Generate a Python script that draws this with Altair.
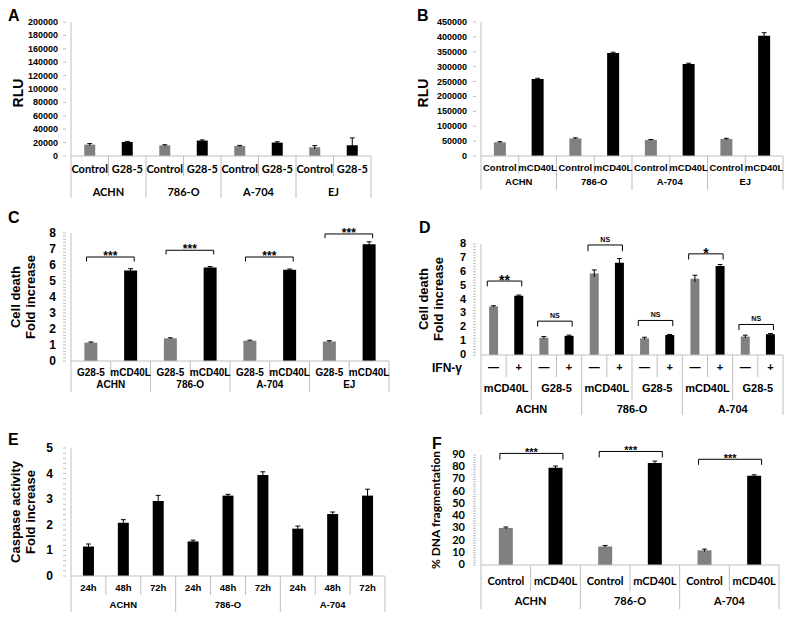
import altair as alt
import pandas as pd

GRAY = "#808080"
BLACK = "#000000"
AXIS = "#bfbfbf"
ARIAL = "Liberation Sans"
CALIBRI = "Lato"

# ---------------- data ----------------
# Panel A
a_cells = ["ACHN", "786-O", "A-704", "EJ"]
a_groups = ["Control", "G28-5"]
a_values = [17000, 21000, 16000, 23000, 15000, 20000, 13000, 16000]
a_errors = [1500, 800, 800, 1000, 800, 1200, 2500, 11000]
a_ticks = [0, 20000, 40000, 60000, 80000, 100000, 120000, 140000, 160000, 180000, 200000]

# Panel B
b_cells = ["ACHN", "786-O", "A-704", "EJ"]
b_groups = ["Control", "mCD40L"]
b_values = [46000, 259000, 59000, 346000, 54000, 309000, 57000, 404000]
b_errors = [2000, 2000, 2000, 2500, 1500, 2500, 2500, 10000]
b_ticks = [0, 50000, 100000, 150000, 200000, 250000, 300000, 350000, 400000, 450000]

# Panel C
c_cells = ["ACHN", "786-O", "A-704", "EJ"]
c_groups = ["G28-5", "mCD40L"]
c_values = [1.15, 5.65, 1.42, 5.85, 1.27, 5.7, 1.22, 7.3]
c_errors = [0.04, 0.12, 0.03, 0.05, 0.03, 0.05, 0.05, 0.15]
c_ticks = [0, 1, 2, 3, 4, 5, 6, 7, 8]
c_sig_text = ["***", "***", "***", "***"]
c_sig_top = [6.5, 6.92, 6.5, 7.94]
c_sig_tip = [6.22, 6.66, 6.22, 7.68]

# Panel D
d_cells = ["ACHN", "786-O", "A-704"]
d_groups = ["mCD40L", "G28-5"]
d_ifn = ["\u2014", "+"]
d_values = [3.5, 4.27, 1.25, 1.38, 5.88, 6.65, 1.2, 1.44, 5.5, 6.42, 1.33, 1.5]
d_errors = [0.05, 0.05, 0.08, 0.05, 0.25, 0.3, 0.08, 0.04, 0.25, 0.1, 0.1, 0.04]
d_ticks = [0, 1, 2, 3, 4, 5, 6, 7, 8]
d_sig_text = ["**", "NS", "NS", "NS", "*", "NS"]
d_sig_top = [5.33, 2.44, 7.93, 2.49, 7.29, 2.2]
d_sig_tip = [4.95, 2.05, 7.48, 2.08, 6.88, 1.8]

# Panel E
e_cells = ["ACHN", "786-O", "A-704"]
e_times = ["24h", "48h", "72h"]
e_values = [1.15, 2.08, 2.93, 1.35, 3.14, 3.95, 1.85, 2.42, 3.14]
e_errors = [0.1, 0.12, 0.22, 0.05, 0.05, 0.12, 0.1, 0.08, 0.25]
e_ticks = [0, 1, 2, 3, 4, 5]

# Panel F
f_cells = ["ACHN", "786-O", "A-704"]
f_groups = ["Control", "mCD40L"]
f_values = [30.3, 79.5, 15.2, 83.5, 12.0, 73.0]
f_errors = [0.8, 1.5, 0.8, 1.5, 1.0, 0.8]
f_ticks = [0, 10, 20, 30, 40, 50, 60, 70, 80, 90]
f_sig_text = ["***", "***", "***"]
f_sig_top = [91.3, 92.9, 86.5]
f_sig_tip = [86.3, 88.0, 82.0]


def build(p):
    n = len(p["values"])
    W, H = p["W"], p["H"]
    xs = alt.Scale(domain=[-0.5, n - 0.5], nice=False, zero=False)
    ys = alt.Scale(domain=[0, p["ydom"]], nice=False)
    X = lambda f: alt.X(f, scale=xs, axis=None)
    Y = lambda f: alt.Y(f, scale=ys, axis=None)
    cap = 2.5 / (W / n)

    df = pd.DataFrame({"i": list(range(n)), "v": p["values"], "e": p["errors"], "c": p["colors"]})
    df["top"] = df["v"] + df["e"]
    df["lo"] = df["v"] - df["e"]
    df["cl"] = df["i"] - cap
    df["cr"] = df["i"] + cap

    layers = [
        alt.Chart(df).mark_bar(size=p["bw"]).encode(
            x=X("i:Q"), y=Y("v:Q"), color=alt.Color("c:N", scale=None)),
        alt.Chart(df).mark_rule(color="black", strokeWidth=1).encode(
            x=X("i:Q"), y=Y("lo:Q"), y2="top:Q"),
        alt.Chart(df).mark_rule(color="black", strokeWidth=1).encode(
            x=X("cl:Q"), x2="cr:Q", y=Y("top:Q")),
    ]
    # axis lines
    ax = pd.DataFrame({"x0": [-0.5], "x1": [n - 0.5], "y0": [0], "y1": [max(p["ticks"])]})
    layers.append(alt.Chart(ax).mark_rule(color=AXIS, strokeWidth=1).encode(
        x=X("x0:Q"), y=Y("y0:Q"), y2="y1:Q"))
    layers.append(alt.Chart(ax).mark_rule(color=AXIS, strokeWidth=1).encode(
        x=X("x0:Q"), x2="x1:Q", y=Y("y0:Q")))
    # y ticks and labels
    mt = pd.DataFrame({"v": p["tickvals"]})
    layers.append(alt.Chart(mt).mark_rule(color=AXIS, strokeWidth=1).encode(
        x=alt.value(-3), x2=alt.value(0), y=Y("v:Q")))
    tk = pd.DataFrame({"v": p["ticks"], "t": [str(t) for t in p["ticks"]]})
    layers.append(alt.Chart(tk).mark_text(
        font=p["lfont"], fontSize=p["lsize"], fontWeight="bold", color="black",
        align="right", baseline="middle").encode(
        x=alt.value(-3 - p["lpad"]), y=Y("v:Q"), text="t:N"))
    # y title lines (rotated)
    for txt, tx in p["title"]:
        td = pd.DataFrame({"t": [txt]})
        layers.append(alt.Chart(td).mark_text(
            font=p["tfont"], fontSize=p["tsize"], fontWeight="bold", color="black",
            angle=270, align="center", baseline="middle").encode(
            x=alt.value(tx), y=alt.value(p["titleY"]), text="t:N"))
    # separators under the category axis
    for pos, L in p["seps"]:
        sd = pd.DataFrame({"x": pos})
        layers.append(alt.Chart(sd).mark_rule(color=AXIS, strokeWidth=1).encode(
            x=X("x:Q"), y=alt.value(H), y2=alt.value(H + L)))
    # category label rows
    for pos, txt, off, font, size in p["rows"]:
        ld = pd.DataFrame({"x": pos, "t": txt})
        layers.append(alt.Chart(ld).mark_text(
            font=font, fontSize=size, fontWeight="bold", color="black", baseline="middle").encode(
            x=X("x:Q"), y=alt.value(H + off), text="t:N"))
    # significance brackets
    if p.get("sig"):
        s = p["sig"]
        bd = pd.DataFrame({
            "x1": [a + s["l"] for a in s["a"]],
            "x2": [a + 1 + s["r"] for a in s["a"]],
            "xm": [a + 0.5 + (s["l"] + s["r"]) / 2 for a in s["a"]],
            "top": s["top"], "tip": s["tip"], "t": s["text"]})
        bd["ns"] = bd["t"] == "NS"
        layers += [
            alt.Chart(bd).mark_rule(color="black", strokeWidth=1).encode(
                x=X("x1:Q"), x2="x2:Q", y=Y("top:Q")),
            alt.Chart(bd).mark_rule(color="black", strokeWidth=1).encode(
                x=X("x1:Q"), y=Y("tip:Q"), y2="top:Q"),
            alt.Chart(bd).mark_rule(color="black", strokeWidth=1).encode(
                x=X("x2:Q"), y=Y("tip:Q"), y2="top:Q"),
        ]
        stars = bd[~bd["ns"]]
        nss = bd[bd["ns"]]
        if len(stars):
            layers.append(alt.Chart(stars).mark_text(
                font=ARIAL, fontSize=s["ssize"], fontWeight="bold", color="black",
                baseline="alphabetic", dy=s["sdy"]).encode(
                x=X("xm:Q"), y=Y("top:Q"), text="t:N"))
        if len(nss):
            layers.append(alt.Chart(nss).mark_text(
                font=ARIAL, fontSize=7, fontWeight="bold", color="black",
                baseline="bottom", dy=-2).encode(
                x=X("xm:Q"), y=Y("top:Q"), text="t:N"))
    # free texts (panel letter, row title)
    for txt, dx, dy, size, align, base in p["texts"]:
        td = pd.DataFrame({"t": [txt]})
        layers.append(alt.Chart(td).mark_text(
            font=ARIAL, fontSize=size, fontWeight="bold", color="black",
            align=align, baseline=base).encode(
            x=alt.value(dx), y=alt.value(dy), text="t:N"))
    return alt.layer(*layers).properties(width=W, height=H)


def alt_colors(n):
    return [GRAY if k % 2 == 0 else BLACK for k in range(n)]


def pair_centers(m):
    return [2 * k + 0.5 for k in range(m)]


def minor(top, step):
    return [round(k * step, 1) for k in range(int(round(top / step)) + 1)]


# ---------- A ----------
A = build(dict(
    values=a_values, errors=a_errors, colors=alt_colors(8), W=310, H=134, ydom=200000,
    ticks=a_ticks, tickvals=a_ticks, title=[("RLU", -47)], titleY=71,
    tfont=ARIAL, tsize=14, lfont=ARIAL, lsize=9, lpad=5, bw=11,
    seps=[([0.5, 2.5, 4.5, 6.5], 20), ([-0.5, 1.5, 3.5, 5.5, 7.5], 42)],
    rows=[(list(range(8)), a_groups * 4, 14, CALIBRI, 11),
          (pair_centers(4), a_cells, 37, CALIBRI, 11)],
    texts=[("A", -58, -14, 16, "left", "top")]))

# ---------- B ----------
B = build(dict(
    values=b_values, errors=b_errors, colors=alt_colors(8), W=312, H=134, ydom=450000,
    ticks=b_ticks, tickvals=b_ticks, title=[("RLU", -52)], titleY=71,
    tfont=ARIAL, tsize=14, lfont=ARIAL, lsize=9, lpad=6, bw=12,
    seps=[([0.5, 2.5, 4.5, 6.5], 18), ([-0.5, 1.5, 3.5, 5.5, 7.5], 34)],
    rows=[(list(range(8)), b_groups * 4, 12, ARIAL, 9.5),
          (pair_centers(4), b_cells, 26, ARIAL, 9.5)],
    texts=[("B", -59, -14, 16, "left", "top")]))

# ---------- C ----------
C = build(dict(
    values=c_values, errors=c_errors, colors=alt_colors(8), W=328, H=128, ydom=8,
    ticks=c_ticks, tickvals=minor(8, 0.2),
    title=[("Cell death", -50), ("Fold increase", -35)], titleY=64,
    tfont=ARIAL, tsize=13, lfont=ARIAL, lsize=12, lpad=7, bw=13,
    seps=[([0.5, 2.5, 4.5, 6.5], 15), ([-0.5, 1.5, 3.5, 5.5, 7.5], 31)],
    rows=[(list(range(8)), c_groups * 4, 12, ARIAL, 10),
          (pair_centers(4), c_cells, 24, ARIAL, 10)],
    sig=dict(a=[0, 2, 4, 6], top=c_sig_top, tip=c_sig_tip, text=c_sig_text,
             l=-0.11, r=0.09, ssize=12, sdy=3),
    texts=[("C", -58, -23, 16, "left", "top")]))

# ---------- D ----------
HD = 122
D = build(dict(
    values=d_values, errors=d_errors, colors=alt_colors(12), W=312, H=HD, ydom=8 * HD / 111,
    ticks=d_ticks, tickvals=minor(8, 0.2),
    title=[("Cell death", -52), ("Fold increase", -37)], titleY=66,
    tfont=ARIAL, tsize=13, lfont=ARIAL, lsize=11, lpad=7, bw=9,
    seps=[([0.5, 2.5, 4.5, 6.5, 8.5, 10.5], 22), ([1.5, 5.5, 9.5], 45), ([-0.5, 3.5, 7.5, 11.5], 60)],
    rows=[(list(range(12)), d_ifn * 6, 13, ARIAL, 11),
          (pair_centers(6), d_groups * 3, 34, ARIAL, 11),
          ([1.5, 5.5, 9.5], d_cells, 55, ARIAL, 11)],
    sig=dict(a=[0, 2, 4, 6, 8, 10], top=d_sig_top, tip=d_sig_tip, text=d_sig_text,
             l=-0.25, r=0.12, ssize=14, sdy=4),
    texts=[("D", -57, -13, 16, "left", "top"), ("IFN-\u03b3", -14, HD + 13, 12, "right", "middle")]))

# ---------- E ----------
HE = 138
E = build(dict(
    values=e_values, errors=e_errors, colors=[BLACK] * 9, W=324, H=HE, ydom=5 * HE / 128,
    ticks=e_ticks, tickvals=minor(5, 0.2),
    title=[("Caspase activity", -50), ("Fold increase", -35)], titleY=74,
    tfont=ARIAL, tsize=13, lfont=ARIAL, lsize=12, lpad=10, bw=11,
    seps=[([0.5, 1.5, 3.5, 4.5, 6.5, 7.5], 19), ([-0.5, 2.5, 5.5, 8.5], 36)],
    rows=[(list(range(9)), e_times * 3, 12, ARIAL, 9.5),
          ([1, 4, 7], e_cells, 29, ARIAL, 9.5)],
    texts=[("E", -58, -6, 16, "left", "top")]))

# ---------- F ----------
HF = 127
F = build(dict(
    values=f_values, errors=f_errors, colors=alt_colors(6), W=308, H=HF, ydom=90 * HF / 110,
    ticks=f_ticks, tickvals=list(range(0, 92, 2)),
    title=[("% DNA fragmentation", -40)], titleY=72,
    tfont=CALIBRI, tsize=12, lfont=CALIBRI, lsize=11, lpad=8, bw=14,
    seps=[([0.5, 2.5, 4.5], 26), ([-0.5, 1.5, 3.5, 5.5], 44)],
    rows=[(list(range(6)), f_groups * 3, 17, CALIBRI, 11),
          (pair_centers(3), f_cells, 37, CALIBRI, 11)],
    sig=dict(a=[0, 2, 4], top=f_sig_top, tip=f_sig_tip, text=f_sig_text,
             l=-0.12, r=0.15, ssize=11, sdy=3),
    texts=[("F", -44, -2, 16, "left", "top")]))

chart = alt.concat(
    A, B, C, D, E, F, columns=2, spacing={"row": 77, "column": 82},
    bounds="flush", align="each"
).properties(padding=0).configure_view(stroke=None)

chart.save("out.html", embed_options={"renderer": "svg", "actions": False})
